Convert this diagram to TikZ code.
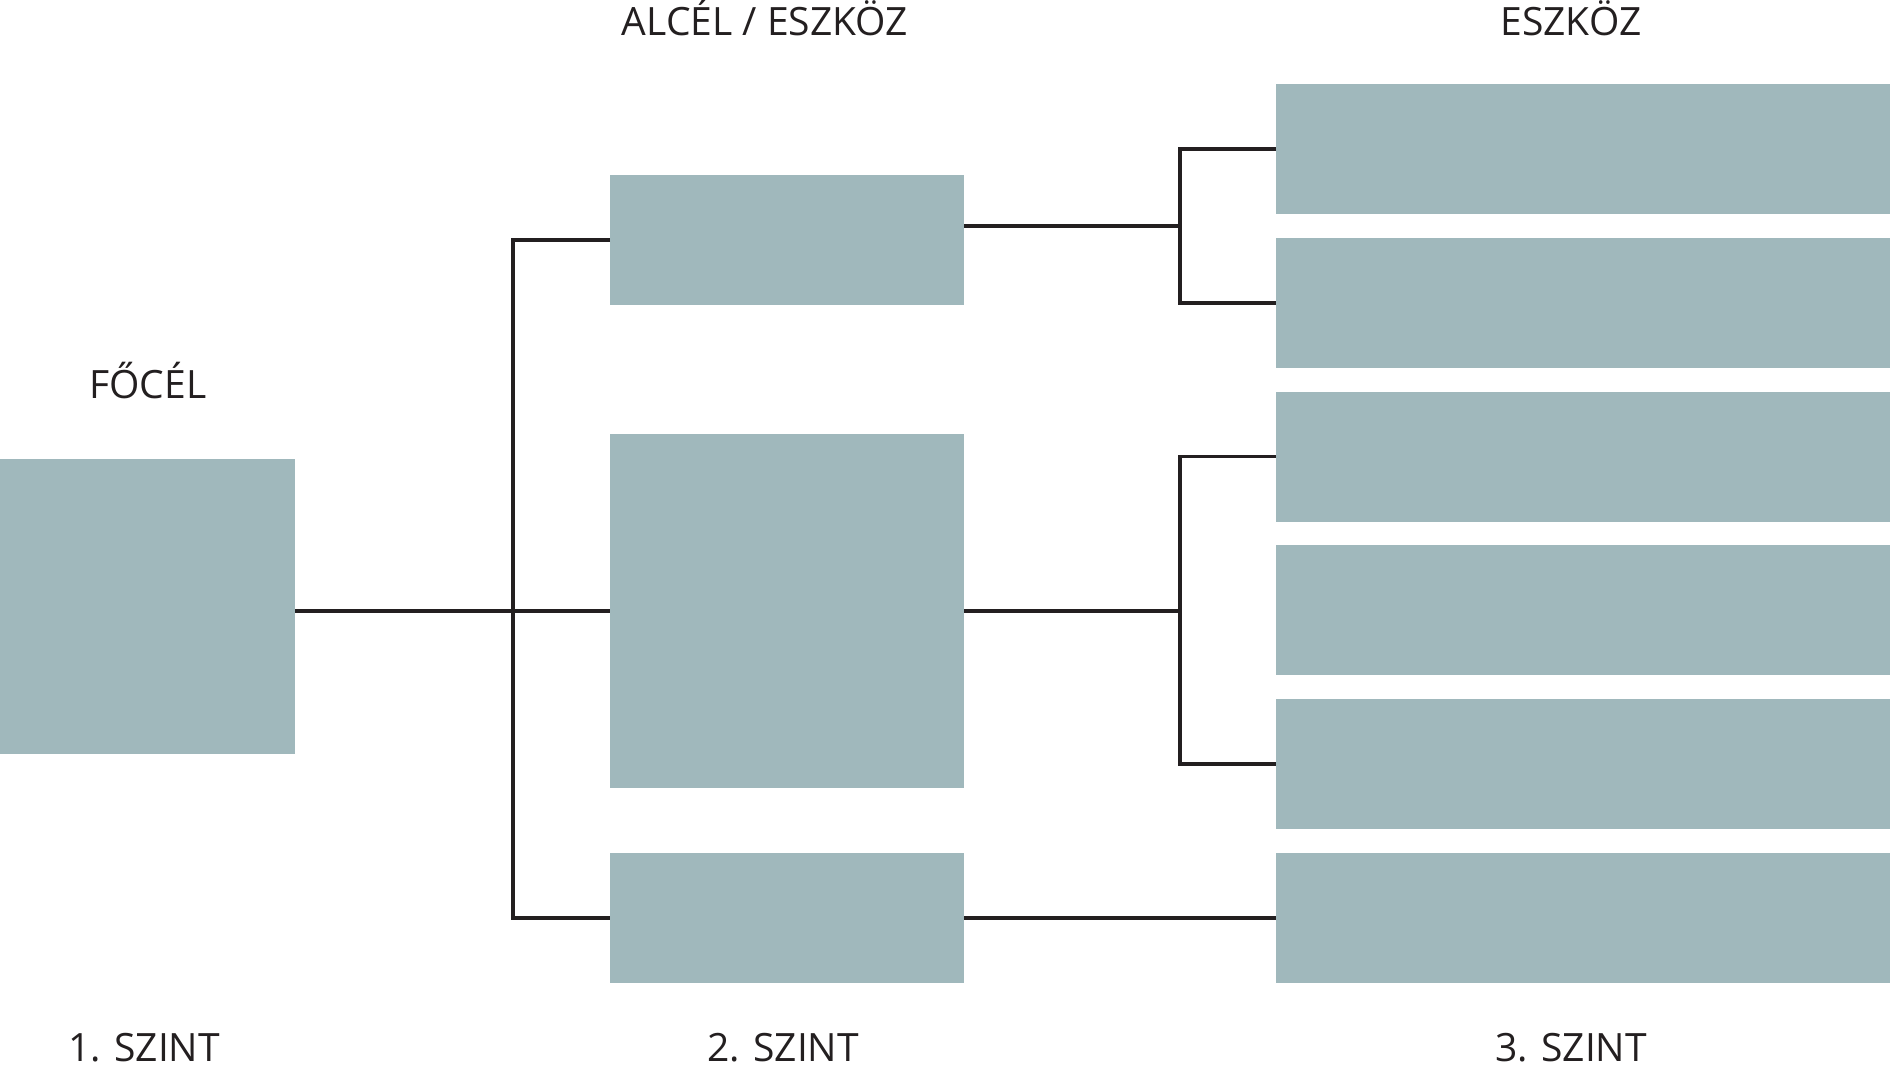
\documentclass[tikz,border=0pt]{standalone}
\usepackage{fontspec}
\setmainfont{Open Sans}
\usetikzlibrary{positioning}
\definecolor{boxteal}{RGB}{160,184,188}
\definecolor{linkblack}{RGB}{35,31,32}

\tikzset{
  box/.style={fill=boxteal, draw=none, inner sep=0pt, outer sep=0pt, anchor=north west},
  link/.style={draw=linkblack, line width=3.6pt},
  heading/.style={font=\fontsize{39}{39}\selectfont, text=linkblack, inner sep=0pt, anchor=base}
}

\begin{document}
\begin{tikzpicture}[x=1pt, y=-1pt]
  \useasboundingbox (0,0) rectangle (1890,1068);

  \node [box, minimum width=295pt, minimum height=295pt] (main) at (0,459) {};
  \node [box, minimum width=354pt, minimum height=130pt] (sub1) at (610,175) {};
  \node [box, minimum width=354pt, minimum height=354pt] (sub2) at (610,434) {};
  \node [box, minimum width=354pt, minimum height=130pt] (sub3) at (610,853) {};
  \foreach \i in {1,...,6}
    \node [box, minimum width=614pt, minimum height=130pt] (tool\i) at (1276,{84+153.8*(\i-1)}) {};

  \coordinate (forkL) at (513,0);
  \coordinate (forkR) at (1180,0);
  \path (tool1.west) -- coordinate[midway] (mid12) (tool2.west);

  \draw [link] (sub1.west) -- (forkL |- sub1.west) -- (forkL |- sub3.west) -- (sub3.west);
  \draw [link] (main.east |- sub2.west) -- (sub2.west);

  \draw [link] (tool1.west) -- (forkR |- tool1.west) -- (forkR |- tool2.west) -- (tool2.west);
  \draw [link] (sub1.east |- mid12) -- (forkR |- mid12);
  \draw [link] (tool3.west) -- (forkR |- tool3.west) -- (forkR |- tool5.west) -- (tool5.west);
  \draw [link] (sub2.east) -- (forkR |- sub2.east);
  \draw [link] (sub3.east) -- (tool6.west);

  \node [heading] (goal) at (148,398) {FŐCÉL};
  \node [heading] (subhead) at (765,35) {ALCÉL / ESZKÖZ};
  \node [heading] (toolhead) at (1571,35) {ESZKÖZ};
  \node [heading] (lvl1) at (144,1061) {1. SZINT};
  \node [heading] (lvl2) at (783,1061) {2. SZINT};
  \node [heading] (lvl3) at (1571,1061) {3. SZINT};
\end{tikzpicture}
\end{document}
